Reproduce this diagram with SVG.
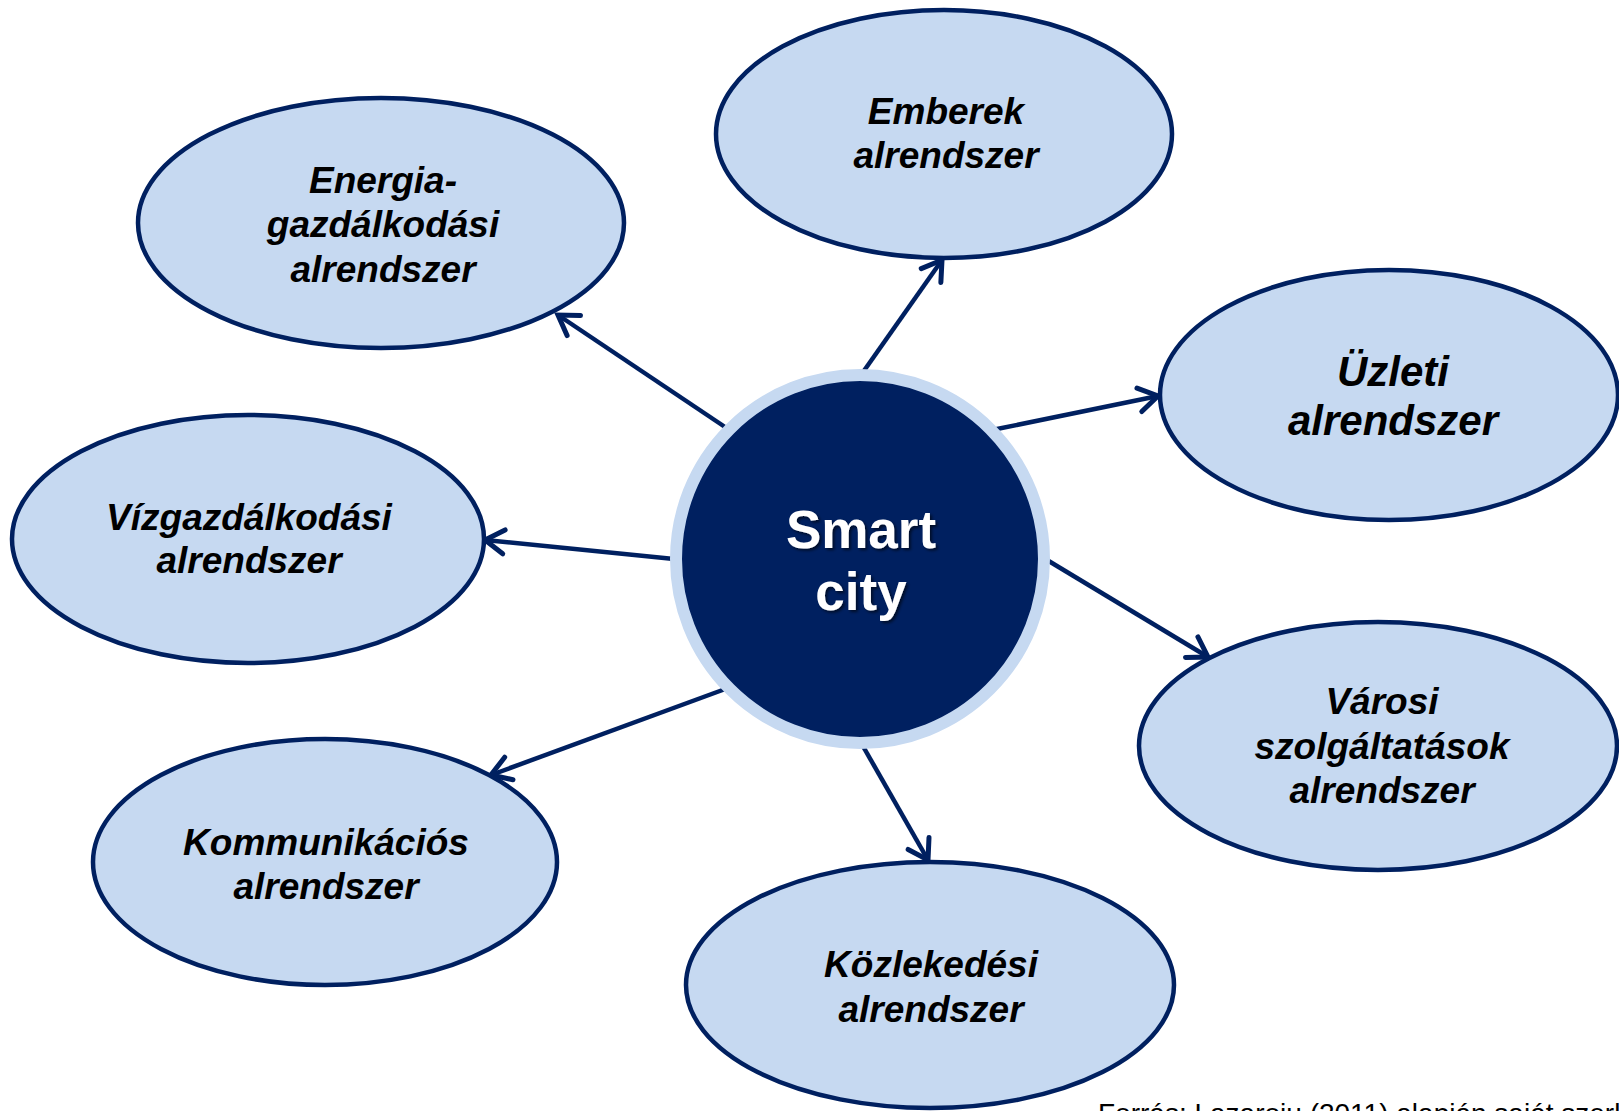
<svg xmlns="http://www.w3.org/2000/svg" width="1619" height="1111" viewBox="0 0 1619 1111">
  <style>
    .node ellipse { fill: #c6d9f1; stroke: #002060; stroke-width: 4.5; }
    .label { font-family: "Liberation Sans", Arial, sans-serif; font-weight: bold; font-style: italic; font-size: 37px; fill: #000; text-anchor: middle; }
    .big { font-size: 42px; }
    .hub { font-family: "Liberation Sans", Arial, sans-serif; font-weight: bold; font-size: 53px; fill: #fff; text-anchor: middle; }
    .edge { stroke: #002060; stroke-width: 4.5; fill: none; marker-end: url(#arrow); }
    .source { font-family: "Liberation Sans", Arial, sans-serif; font-size: 28px; fill: #000; }
  </style>
  <defs>
    <marker id="arrow" markerUnits="userSpaceOnUse" markerWidth="40" markerHeight="40" refX="0" refY="0" orient="auto" viewBox="-30 -20 40 40" overflow="visible">
      <path d="M -19 -12 L 0 0 L -19 12" fill="none" stroke="#002060" stroke-width="5" stroke-linecap="round" stroke-linejoin="miter"/>
    </marker>
    <filter id="shadow" x="-20%" y="-20%" width="140%" height="140%">
      <feDropShadow dx="2" dy="2" stdDeviation="1.5" flood-color="#000" flood-opacity="0.6"/>
    </filter>
  </defs>

  <rect width="1619" height="1111" fill="#fff"/>

  <!-- connectors from the hub to each subsystem -->
  <g id="connectors">
    <line class="edge" x1="728" y1="429" x2="558" y2="315"/>
    <line class="edge" x1="861" y1="375" x2="942" y2="260"/>
    <line class="edge" x1="992" y1="430" x2="1158" y2="396"/>
    <line class="edge" x1="674" y1="559" x2="485" y2="540"/>
    <line class="edge" x1="1047" y1="560" x2="1208" y2="657"/>
    <line class="edge" x1="728" y1="688" x2="491" y2="775"/>
    <line class="edge" x1="860" y1="741" x2="928" y2="860"/>
  </g>

  <!-- hub -->
  <g id="smart-city">
    <circle cx="860" cy="559" r="184" fill="#002060" stroke="#c6d9f1" stroke-width="12"/>
    <text class="hub" filter="url(#shadow)"><tspan x="861" y="548">Smart</tspan><tspan x="861" y="610">city</tspan></text>
  </g>

  <g id="energia" class="node">
    <ellipse cx="381" cy="223" rx="243" ry="125"/>
    <text class="label"><tspan x="383" y="193">Energia-</tspan><tspan x="383" y="237">gazdálkodási</tspan><tspan x="383" y="282">alrendszer</tspan></text>
  </g>

  <g id="emberek" class="node">
    <ellipse cx="944" cy="134" rx="228" ry="124"/>
    <text class="label"><tspan x="946" y="124">Emberek</tspan><tspan x="946" y="168">alrendszer</tspan></text>
  </g>

  <g id="uzleti" class="node">
    <ellipse cx="1389" cy="395" rx="229" ry="125"/>
    <text class="label big"><tspan x="1393" y="386">Üzleti</tspan><tspan x="1393" y="435">alrendszer</tspan></text>
  </g>

  <g id="vizgazdalkodasi" class="node">
    <ellipse cx="248" cy="539" rx="236" ry="124"/>
    <text class="label"><tspan x="249" y="530">Vízgazdálkodási</tspan><tspan x="249" y="573">alrendszer</tspan></text>
  </g>

  <g id="varosi" class="node">
    <ellipse cx="1378" cy="746" rx="239" ry="124"/>
    <text class="label"><tspan x="1382" y="714">Városi</tspan><tspan x="1382" y="759">szolgáltatások</tspan><tspan x="1382" y="803">alrendszer</tspan></text>
  </g>

  <g id="kommunikacios" class="node">
    <ellipse cx="325" cy="862" rx="232" ry="123"/>
    <text class="label"><tspan x="326" y="855">Kommunikációs</tspan><tspan x="326" y="899">alrendszer</tspan></text>
  </g>

  <g id="kozlekedesi" class="node">
    <ellipse cx="930" cy="985" rx="244" ry="123"/>
    <text class="label"><tspan x="931" y="977">Közlekedési</tspan><tspan x="931" y="1022">alrendszer</tspan></text>
  </g>

  <text class="source" x="1098" y="1123">Forrás: Lazaroiu (2011) alapján saját szerkesztés</text>
</svg>
